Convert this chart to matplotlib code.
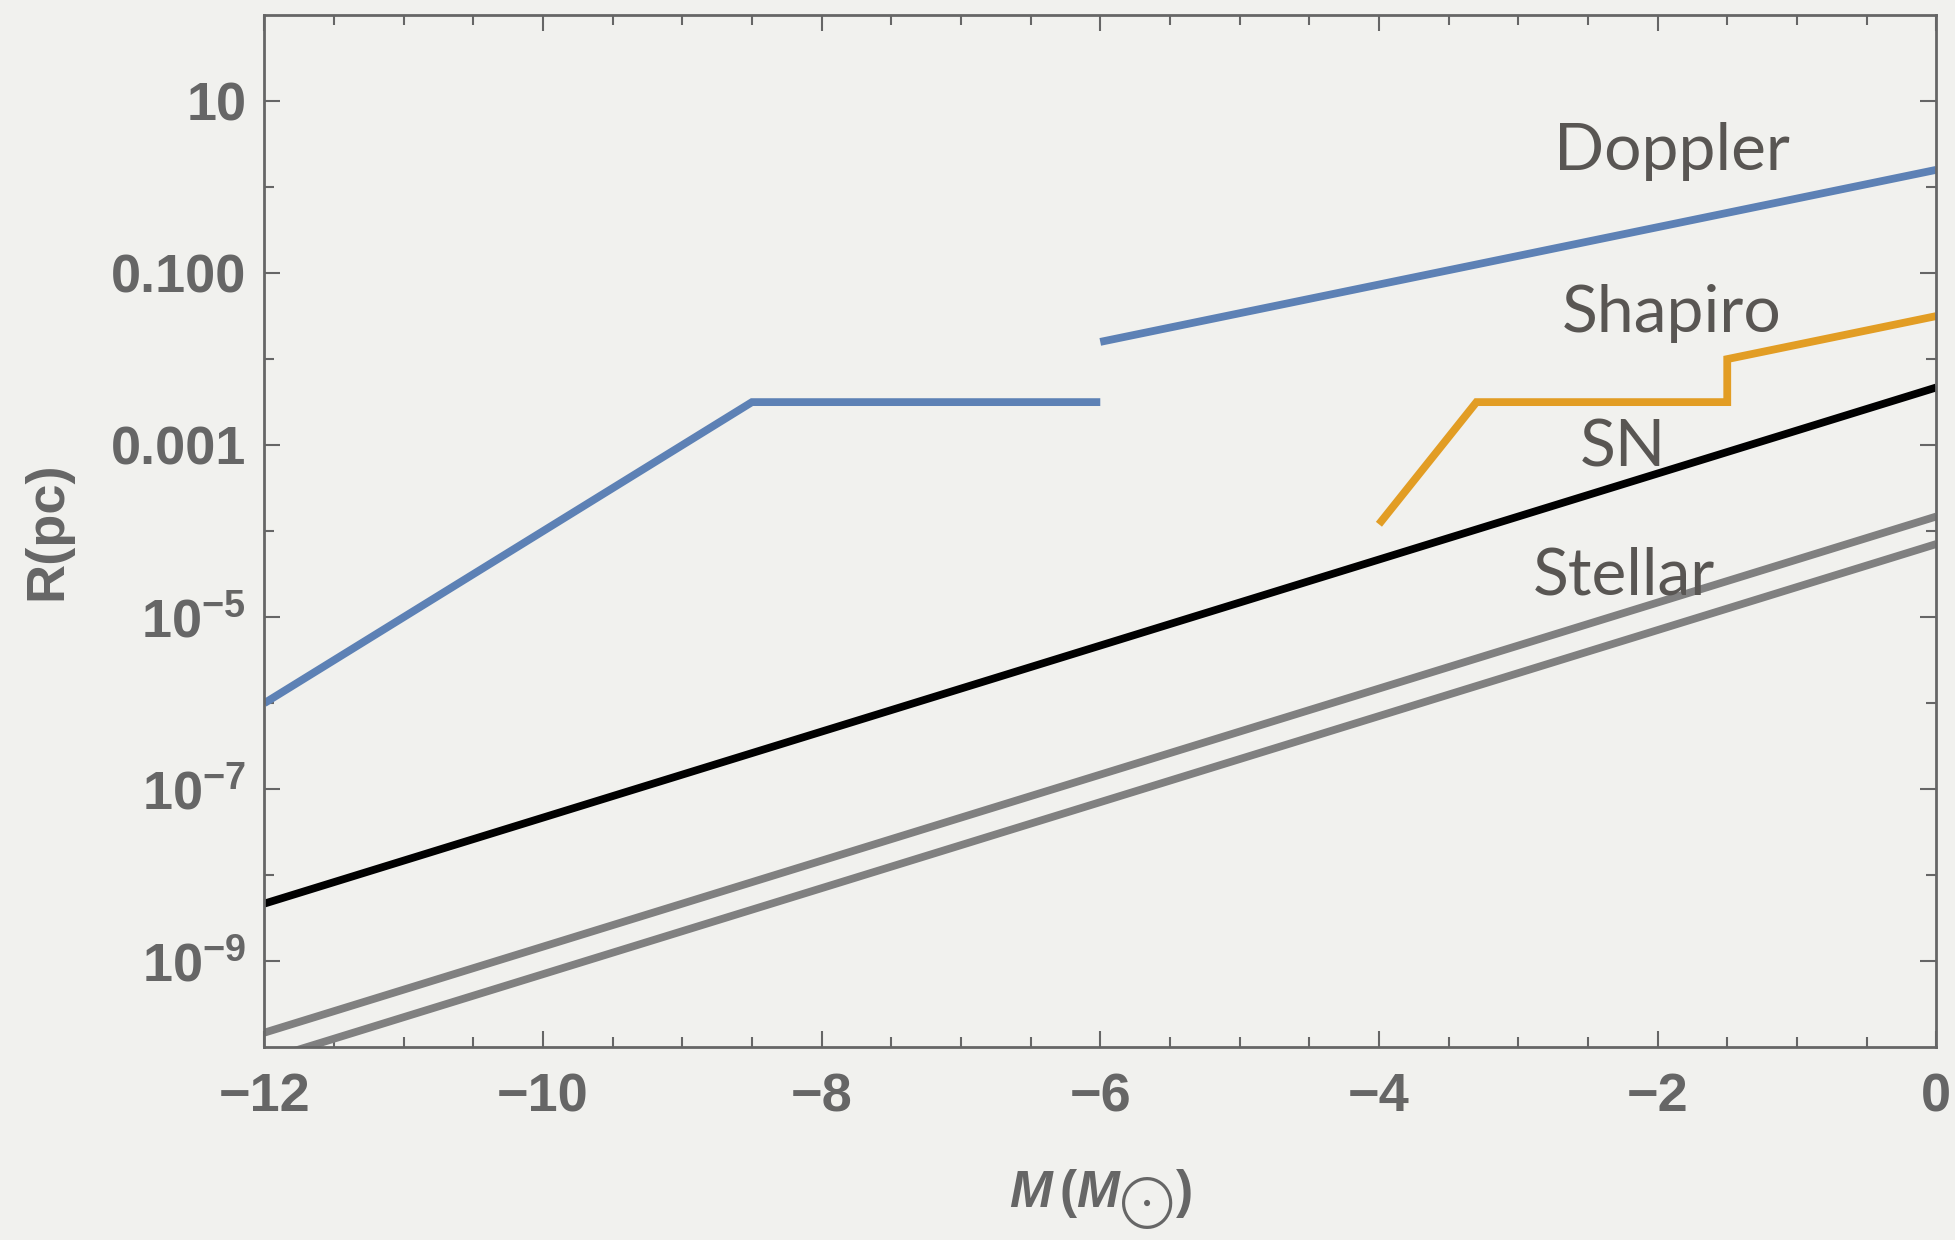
import matplotlib
matplotlib.use("Agg")
import matplotlib.pyplot as plt
import numpy as np
from matplotlib.ticker import FixedLocator, NullFormatter

plt.rcParams['mathtext.fontset'] = 'custom'
plt.rcParams['mathtext.rm'] = 'Liberation Sans:bold'
plt.rcParams['mathtext.bf'] = 'Liberation Sans:bold'
plt.rcParams['mathtext.it'] = 'Liberation Sans:italic:bold'

# data: log10 M (solar masses) vs R (pc)
doppler_a_m = [-12.0, -8.5, -6.0]
doppler_a_r = [1e-6, 10**-2.5, 10**-2.5]
doppler_b_m = [-6.0, 0.0]
doppler_b_r = [10**-1.8, 10**0.2]
shapiro_m = [-4.0, -3.3, -1.5, -1.5, 0.0]
shapiro_r = [10**-3.92, 10**-2.5, 10**-2.5, 10**-2.0, 10**-1.5]
sn_m = [-12.0, 0.0]
sn_r = [10**-8.33, 10**-2.33]
stellar1_m = [-12.0, 0.0]
stellar1_r = [10**-9.83, 10**-3.83]
stellar2_m = [-12.0, 0.0]
stellar2_r = [10**-10.15, 10**-4.15]

xticks = [-12, -10, -8, -6, -4, -2, 0]
yticks = [1e1, 1e-1, 1e-3, 1e-5, 1e-7, 1e-9]
ytick_labels = ['10', '0.100', '0.001', r'$10^{-5}$', r'$10^{-7}$', r'$10^{-9}$']
yminor = [1e0, 1e-2, 1e-4, 1e-6, 1e-8]

bg = '#f1f1ee'
axcol = '#666666'
txtcol = '#595653'

fig = plt.figure(figsize=(19.55, 12.4), dpi=100, facecolor=bg)
ax = fig.add_axes([0.1352, 0.1554, 0.8552, 0.8325])
ax.set_facecolor(bg)

lw = 5.6
ax.plot(doppler_a_m, doppler_a_r, color='#5d81b5', lw=lw, solid_capstyle='butt', solid_joinstyle='miter')
ax.plot(doppler_b_m, doppler_b_r, color='#5d81b5', lw=lw, solid_capstyle='butt')
ax.plot(shapiro_m, shapiro_r, color='#e29d24', lw=lw, solid_capstyle='butt', solid_joinstyle='miter')
ax.plot(sn_m, sn_r, color='black', lw=lw, solid_capstyle='butt')
ax.plot(stellar1_m, stellar1_r, color='#808080', lw=lw, solid_capstyle='butt')
ax.plot(stellar2_m, stellar2_r, color='#808080', lw=lw, solid_capstyle='butt')

ax.set_yscale('log')
ax.set_xlim(-12, 0)
ax.set_ylim(1e-10, 1e2)

ax.xaxis.set_major_locator(FixedLocator(xticks))
ax.set_xticklabels(['\u2212%d' % -t if t < 0 else '%d' % t for t in xticks])
ax.xaxis.set_minor_locator(FixedLocator(np.arange(-12, 0.01, 0.5)))
ax.yaxis.set_major_locator(FixedLocator(yticks))
ax.set_yticklabels(ytick_labels)
ax.yaxis.set_minor_locator(FixedLocator(yminor))
ax.yaxis.set_minor_formatter(NullFormatter())

ax.tick_params(which='both', direction='in', top=True, right=True, color=axcol,
               width=1.5, labelcolor=axcol)
ax.tick_params(which='major', length=11.5)
ax.tick_params(which='minor', length=7.5)
ax.tick_params(axis='x', which='major', pad=18)
ax.tick_params(axis='y', which='major', pad=13)
for lab in ax.get_xticklabels() + ax.get_yticklabels():
    lab.set_fontfamily('Liberation Sans')
    lab.set_fontweight('bold')
    lab.set_fontsize(39)

for sp in ax.spines.values():
    sp.set_color(axcol)
    sp.set_linewidth(2)

ax.set_ylabel('R(pc)', fontsize=39, fontweight='bold', color=axcol,
              family='Liberation Sans', labelpad=28)
ax.set_xlabel(r'$M\,(M_{\bigodot})$', fontsize=37, color=axcol, labelpad=33)

tkw = dict(family='Lato', fontsize=47.5, color=txtcol, ha='center', va='baseline')
ax.text(-1.9, 10**0.2, 'Doppler', **tkw)
ax.text(-1.9, 10**-1.69, 'Shapiro', **tkw)
ax.text(-2.25, 10**-3.25, 'SN', **tkw)
ax.text(-2.24, 10**-4.74, 'Stellar', **tkw)

fig.savefig('out.png', dpi=100, facecolor=bg)
